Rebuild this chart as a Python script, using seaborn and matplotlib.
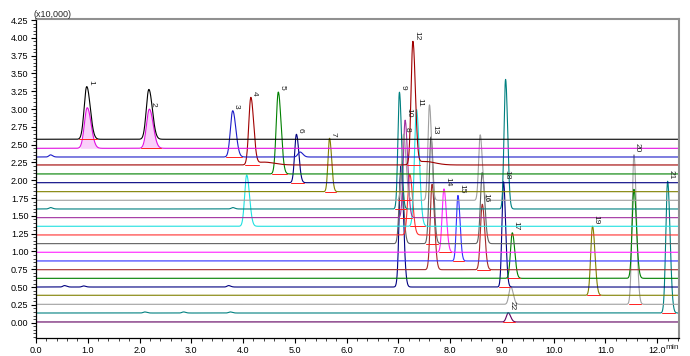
import numpy as np
import pandas as pd
import matplotlib
matplotlib.use("Agg")
import matplotlib.pyplot as plt
from matplotlib.ticker import MultipleLocator, FormatStrFormatter
import seaborn as sns

# traces, top to bottom: baseline level (x10,000) and colour
trace_offsets = [2.576, 2.449, 2.327, 2.215, 2.089, 1.966, 1.840, 1.719, 1.597, 1.475, 1.354,
                 1.232, 1.110, 0.989, 0.867, 0.744, 0.623, 0.501, 0.385, 0.258, 0.136, 0.010]
trace_colors = ["#000000", "#e010e0", "#1c1cc8", "#a00000", "#008000", "#000080", "#808000",
                "#a0a0a0", "#008080", "#a030a0", "#20e0e0", "#ff3030", "#606060", "#ff20ff",
                "#3030ff", "#a52a2a", "#008000", "#000080", "#808000", "#a0a0a0", "#008080", "#600060"]

# peak table
peak_trace = [0, 0, 1, 1, 2, 2, 3, 3, 4, 5, 6, 7, 7, 7, 8, 8, 9, 10, 10, 3, 3, 12, 12, 12,
              13, 14, 15, 15, 16, 16, 17, 17, 18, 19, 19, 20, 21,
              2, 8, 8, 17, 17, 17, 20, 20, 20, 11]
peak_rt = [0.98, 2.18, 0.99, 2.19, 3.80, 5.10, 4.15, 4.40, 4.68, 5.03, 5.67, 7.10, 7.60, 8.58,
           7.02, 9.07, 7.13, 4.07, 7.35, 7.28, 7.50, 7.63, 7.05, 8.62,
           7.88, 8.15, 8.62, 7.65, 9.20, 11.55, 7.05, 9.03, 10.75, 11.55, 9.17, 12.20, 9.12,
           0.28, 0.28, 3.80, 0.55, 0.92, 3.72, 2.10, 2.85, 3.75, 7.22]
peak_height = [0.74, 0.70, 0.57, 0.55, 0.65, 0.07, 0.94, 0.04, 1.15, 0.68, 0.75, 0.93, 1.34, 0.92,
               1.64, 1.82, 1.37, 0.72, 1.64, 1.72, 0.05, 1.50, 1.00, 1.00,
               0.89, 0.92, 0.92, 1.20, 0.64, 1.25, 1.70, 1.48, 0.97, 2.10, 0.25, 1.85, 0.13,
               0.03, 0.02, 0.02, 0.02, 0.015, 0.02, 0.015, 0.015, 0.015, 0.85]
peak_width = [0.05, 0.05, 0.055, 0.055, 0.045, 0.04, 0.04, 0.15, 0.04, 0.035, 0.03, 0.035, 0.03, 0.03,
              0.03, 0.03, 0.035, 0.04, 0.04, 0.035, 0.15, 0.035, 0.035, 0.035,
              0.035, 0.03, 0.035, 0.035, 0.035, 0.035, 0.035, 0.03, 0.035, 0.035, 0.035, 0.035, 0.035,
              0.03, 0.03, 0.03, 0.03, 0.03, 0.03, 0.03, 0.03, 0.03, 0.04]
peak_label = ["1", "", "", "2", "3", "", "4", "", "5", "6", "7", "8", "", "",
              "9", "", "10", "", "11", "12", "", "13", "", "",
              "14", "15", "16", "", "17", "", "", "18", "19", "20", "", "21", "22",
              "", "", "", "", "", "", "", "", "", ""]

t = np.linspace(0, 12.42, 3000)
rows = []
signals = []
for i, base in enumerate(trace_offsets):
    y = np.full_like(t, base)
    for tr, rt, h, w in zip(peak_trace, peak_rt, peak_height, peak_width):
        if tr == i:
            sig = np.where(t < rt, w, w * 1.35)  # a little tailing
            y = y + h * np.exp(-0.5 * ((t - rt) / sig) ** 2)
    signals.append(y)
    rows.append(pd.DataFrame({"time": t, "signal": y, "trace": i}))
df = pd.concat(rows, ignore_index=True)

sns.set_style("ticks")
plt.rcParams["font.family"] = ["Liberation Sans", "DejaVu Sans"]

fig = plt.figure(figsize=(6.9, 3.56), dpi=100)
ax = fig.add_axes([36 / 690, 1 - 338 / 356, (679 - 36) / 690, (338 - 19) / 356])

# shaded area under the selected peaks (magenta trace)
for rt in (0.99, 2.19):
    m = (t > rt - 0.14) & (t < rt + 0.22)
    ax.fill_between(t[m], trace_offsets[1], signals[1][m], color="#fad0fa", lw=0, zorder=1)

palette = {i: c for i, c in enumerate(trace_colors)}
sns.lineplot(data=df, x="time", y="signal", hue="trace", palette=palette,
             hue_order=list(range(len(trace_offsets)))[::-1], estimator=None, sort=False,
             legend=False, lw=0.8, ax=ax, zorder=2)

# integration baselines + peak numbers
for tr, rt, h, w, lab in zip(peak_trace, peak_rt, peak_height, peak_width, peak_label):
    if not lab:
        continue
    base = trace_offsets[tr]
    ax.plot([rt - 3 * w, rt + 4 * w], [base, base], color="#ff2020", lw=0.7, zorder=3)
    ax.text(rt + 0.07, base + h + 0.03, lab, rotation=270, ha="center", va="bottom",
            fontsize=6, color="#202020", zorder=4)

ax.set_xlim(0, 12.42)
ax.set_ylim(-0.215, 4.265)
ax.set_xlabel("")
ax.set_ylabel("")
ax.xaxis.set_major_locator(MultipleLocator(1.0))
ax.xaxis.set_minor_locator(MultipleLocator(0.2))
ax.yaxis.set_major_locator(MultipleLocator(0.25))
ax.yaxis.set_minor_locator(MultipleLocator(0.05))
ax.xaxis.set_major_formatter(FormatStrFormatter("%.1f"))
ax.yaxis.set_major_formatter(FormatStrFormatter("%.2f"))
ax.tick_params(axis="both", which="major", labelsize=6.5, length=3.5, width=0.8, pad=2, colors="#000000")
ax.tick_params(axis="both", which="minor", length=2, width=0.6)

for side in ("left", "bottom"):
    ax.spines[side].set_color("black")
    ax.spines[side].set_linewidth(0.9)
for side in ("top", "right"):
    ax.spines[side].set_visible(True)
    ax.spines[side].set_color("#909090")
    ax.spines[side].set_linewidth(1.5)

ax.text(-0.004, 1.0, "(x10,000)", transform=ax.transAxes, ha="left", va="bottom", fontsize=6.5)
ax.text(1.0, -0.02, "min", transform=ax.transAxes, ha="right", va="top", fontsize=6)

fig.savefig("out.png", dpi=100)
